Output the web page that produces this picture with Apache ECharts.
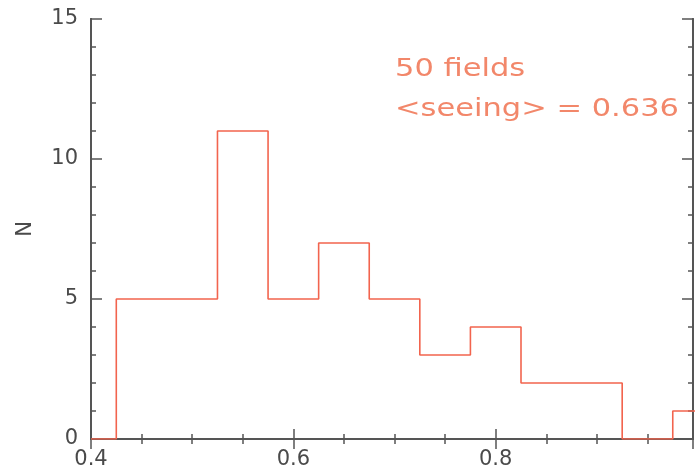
<!DOCTYPE html>
<html>
<head>
<meta charset="utf-8">
<script src="https://cdn.jsdelivr.net/npm/echarts@6/dist/echarts.min.js"></script>
<style>
html, body { margin: 0; padding: 0; background: #fff; }
#hist { width: 698px; height: 470px; }
</style>
</head>
<body>
<div id="hist"></div>
<script>
// histogram of seeing (arcsec), 50 fields
var binEdges = [0.400, 0.425, 0.475, 0.525, 0.575, 0.625, 0.675, 0.725, 0.775, 0.825, 0.875, 0.925, 0.975, 1.025];
var counts = [0, 5, 5, 11, 5, 7, 5, 3, 4, 2, 2, 0, 1];
var xLabels = [0.4, 0.6, 0.8];
var yLabels = [0, 5, 10, 15];
var noteLines = ['50 fields', '<seeing> = 0.636'];

var chart = echarts.init(document.getElementById('hist'));

var axisGray = '#555';
var lineRed = '#f2644e';
var noteColor = '#f2876a';

function stepPoints() {
	var pts = [];
	for (var i = 0; i < counts.length; i++) {
		pts.push([binEdges[i], counts[i]]);
	}
	pts.push([binEdges[counts.length], counts[counts.length - 1]]);
	return pts;
}

function isLabel(list, v) {
	for (var i = 0; i < list.length; i++) {
		if (Math.abs(list[i] - v) < 1e-6) return true;
	}
	return false;
}

function xAxisDef(pos, interval, tickLen, withLabels) {
	return {
		type: 'value', position: pos, min: 0.4, max: 0.995, interval: interval,
		axisLine: { show: true, lineStyle: { color: axisGray, width: 2 } },
		axisTick: { show: true, inside: true, length: tickLen, lineStyle: { color: axisGray, width: 1.5 } },
		axisLabel: {
			show: withLabels, margin: 10, color: '#4a4a4a', fontSize: 21, fontFamily: 'DejaVu Sans',
			formatter: function (v) { return isLabel(xLabels, v) ? v.toFixed(1) : ''; }
		},
		splitLine: { show: false }
	};
}

function yAxisDef(pos, interval, tickLen, withLabels) {
	var ax = {
		type: 'value', position: pos, min: 0, max: 15, interval: interval,
		axisLine: { show: true, lineStyle: { color: axisGray, width: 2 } },
		axisTick: { show: true, inside: true, length: tickLen, lineStyle: { color: axisGray, width: 1.5 } },
		axisLabel: {
			show: withLabels, margin: 13, color: '#4a4a4a', fontSize: 21, fontFamily: 'DejaVu Sans',
			formatter: function (v) { return isLabel(yLabels, v) ? String(v) : ''; }
		},
		splitLine: { show: false }
	};
	if (withLabels) {
		ax.name = 'N';
		ax.nameLocation = 'middle';
		ax.nameRotate = 90;
		ax.nameGap = 55;
		ax.nameTextStyle = { color: '#4a4a4a', fontSize: 21, fontFamily: 'DejaVu Sans' };
	}
	return ax;
}

var option = {
	animation: false,
	backgroundColor: '#fff',
	grid: { left: 91, top: 19, right: 5, bottom: 28, containLabel: false },
	xAxis: [
		xAxisDef('bottom', 0.05, 5, true),
		xAxisDef('bottom', 0.2, 10, false),
		xAxisDef('top', 0.05, 5, false),
		xAxisDef('top', 0.2, 10, false)
	],
	yAxis: [
		yAxisDef('left', 1, 5, true),
		yAxisDef('left', 5, 11, false),
		yAxisDef('right', 1, 5, false),
		yAxisDef('right', 5, 11, false)
	],
	graphic: [{
		type: 'text',
		x: 395,
		y: 49,
		scaleX: 1.22,
		style: {
			x: 0,
			y: 0,
			text: noteLines.join('\n'),
			fill: noteColor,
			font: '25px "DejaVu Sans"',
			lineHeight: 40,
			verticalAlign: 'top'
		}
	}],
	series: [{
		type: 'line',
		step: 'end',
		xAxisIndex: 0,
		yAxisIndex: 0,
		data: stepPoints(),
		symbol: 'none',
		clip: true,
		lineStyle: { color: lineRed, width: 1.6 }
	}]
};

chart.setOption(option);
</script>
</body>
</html>
